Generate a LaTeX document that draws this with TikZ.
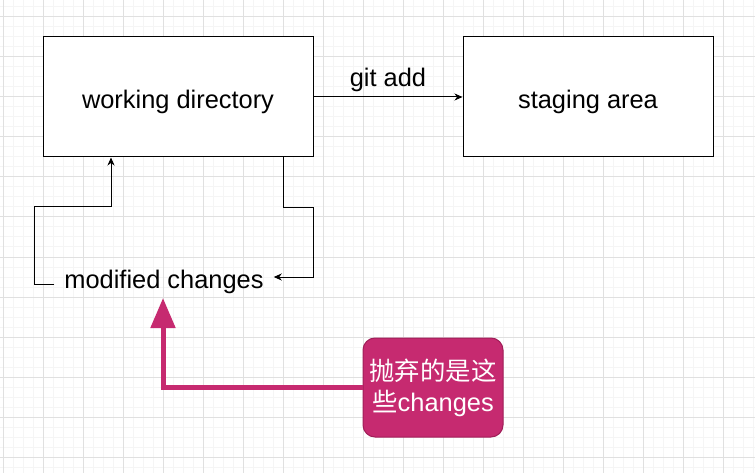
\documentclass[tikz,border=0pt]{standalone}
\usepackage{fontspec}
\setmainfont{Liberation Sans}
\newfontfamily\cjk{Noto Sans CJK SC}
\usetikzlibrary{arrows.meta,positioning}
\definecolor{notecol}{RGB}{198,42,112}
\definecolor{noteborder}{RGB}{160,30,88}
\definecolor{minorcol}{RGB}{245,245,245}
\definecolor{majorcol}{RGB}{224,224,224}
\newcommand{\bigtext}{\fontsize{25.4}{31}\selectfont}
\newcommand{\lowered}[1]{\raisebox{-5pt}[\height][\depth]{#1}}
\tikzset{
  git box/.style={rectangle,draw=black,line width=1pt,fill=white,minimum width=270pt,minimum height=120pt,font=\bigtext},
  plain label/.style={inner xsep=10pt,inner ysep=2pt,font=\bigtext},
  note box/.style={rectangle,rounded corners=12pt,draw=noteborder,line width=1pt,fill=notecol,text=white,
    minimum width=140pt,minimum height=99pt,align=center,font=\bigtext},
  flowedge/.style={-{Stealth[length=8pt,width=7pt,inset=2.5pt]},draw=black,line width=1pt},
  noteedge/.style={-{Triangle[length=30pt,width=24pt]},draw=notecol,line width=5pt},
  minorgrid/.style={draw=minorcol,line width=1pt},
  majorgrid/.style={draw=majorcol,line width=1pt}
}

\begin{document}
\begin{tikzpicture}[x=1pt,y=-1pt]
  \useasboundingbox (0,0) rectangle (755,473);
  \fill[white] (0,0) rectangle (755,473);

  % background grid
  \foreach \x in {3,13,...,753}{\draw[minorgrid] (\x,0) -- (\x,473);}
  \foreach \y in {7,17,...,467}{\draw[minorgrid] (0,\y) -- (755,\y);}
  \foreach \x in {3,43,...,723}{\draw[majorgrid] (\x,0) -- (\x,473);}
  \foreach \y in {17,57,...,457}{\draw[majorgrid] (0,\y) -- (755,\y);}

  \node[git box] (wd) at (178,97) {\lowered{working directory}};
  \node[git box,minimum width=250pt] (sa) at (588,97) {\lowered{staging area}};
  \node[plain label] (mod) at (164,277) {\lowered{modified changes}};
  \node[note box] (note) at (433,387.5) {{\cjk 抛弃的是这}\\{\cjk 些}changes};
  \coordinate (tip) at (163,298);

  \draw[flowedge] (wd.east) -- (sa.west)
    node[midway,above=1pt,font=\bigtext] (gitadd) {git add};

  % discard loop round the box
  \draw[flowedge] ([yshift=-7pt]mod.west) -- ++(-20,0) -- ++(0,-77) -| ([xshift=-67pt]wd.south);
  \draw[flowedge] ([xshift=105pt]wd.south) -- ++(0,50) -- ++(30,0) |- (mod.east);

  \draw[noteedge] (note.west) -| (tip);
\end{tikzpicture}
\end{document}
